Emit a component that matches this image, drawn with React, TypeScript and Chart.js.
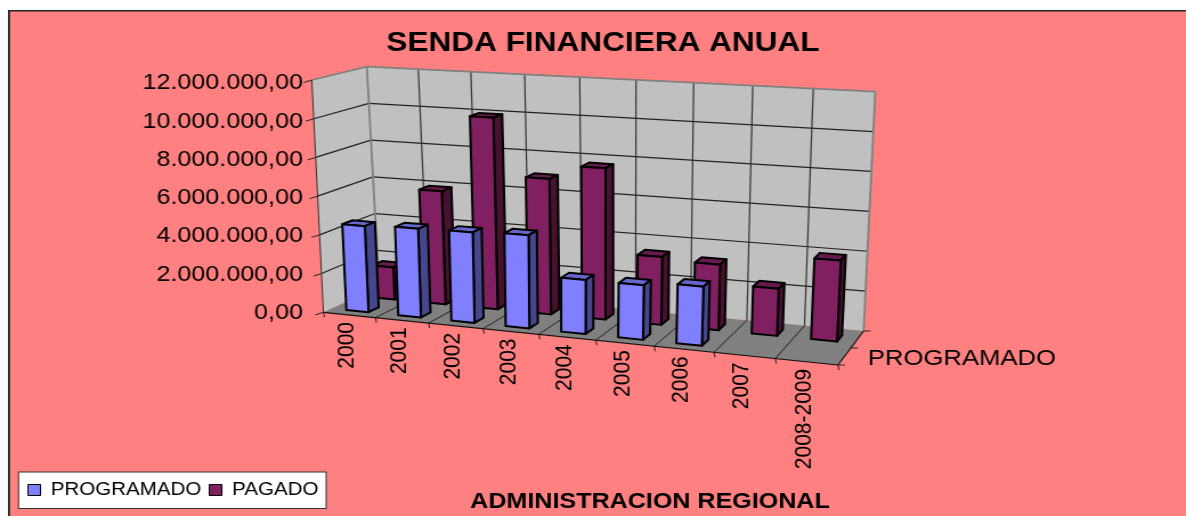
import React, { useEffect, useRef } from "react";
import { Chart, registerables } from "chart.js";

Chart.register(...registerables);

const categories = ["2000", "2001", "2002", "2003", "2004", "2005", "2006", "2007", "2008-2009"];
const programado = [4450000, 4550000, 4600000, 4700000, 2700000, 2700000, 2900000, 0, 0];
const pagado = [1700000, 5950000, 10000000, 7000000, 7750000, 3450000, 3300000, 2350000, 4000000];
const depthLabel = "PROGRAMADO";

const W = 1186;
const H = 516;
const K = 1.14; // horizontal stretch of the picture
const CW = Math.round(W / K);
const FONT = "'Liberation Sans', Arial, sans-serif";
const AREA_SHIFT = 3.5; // tick labels sit this far below the chart's box

type Pt = [number, number];
// 3D box corners in picture pixels: [u][v][d]  u left/right, v top/bottom, d front/back
const CORNERS: Pt[][][] = [
  [
    [[311.7, 80], [366.7, 66.7]],
    [[323.3, 312.3], [379, 287]],
  ],
  [
    [[851, 113], [875, 91.7]],
    [[837.7, 365], [863.3, 331]],
  ],
];
const R_WEIGHT = 0.9;
const S_WEIGHT = 1;

function project(u: number, v: number, d: number): Pt {
  let x = 0, y = 0, w = 0;
  for (let i = 0; i < 2; i++)
    for (let j = 0; j < 2; j++)
      for (let k = 0; k < 2; k++) {
        const b =
          (i ? u * R_WEIGHT : 1 - u) * (j ? v : 1 - v) * (k ? d * S_WEIGHT : 1 - d);
        const c = CORNERS[i][j][k];
        x += c[0] * b;
        y += c[1] * b;
        w += b;
      }
  return [x / w / K, y / w];
}

function poly(ctx: CanvasRenderingContext2D, pts: Pt[], fill: string | null, stroke: string | null, lw = 1) {
  ctx.beginPath();
  pts.forEach((p, i) => (i ? ctx.lineTo(p[0], p[1]) : ctx.moveTo(p[0], p[1])));
  ctx.closePath();
  if (fill) {
    ctx.fillStyle = fill;
    ctx.fill();
  }
  if (stroke) {
    ctx.strokeStyle = stroke;
    ctx.lineWidth = lw;
    ctx.lineJoin = "round";
    ctx.stroke();
  }
}

function line(ctx: CanvasRenderingContext2D, a: Pt, b: Pt, color: string, lw = 1) {
  ctx.beginPath();
  ctx.moveTo(a[0], a[1]);
  ctx.lineTo(b[0], b[1]);
  ctx.strokeStyle = color;
  ctx.lineWidth = lw;
  ctx.stroke();
}

const ROW_DEPTH: [number, number][] = [
  [0.15, 0.34],
  [0.64, 0.83],
];
const FACE_COLORS = [
  { front: "#8080FF", side: "#46468C", top: "#6666CC" },
  { front: "#802060", side: "#46122F", top: "#661A4D" },
];

const framePlugin = {
  id: "frame",
  beforeDraw(chart: any) {
    const { ctx, legend } = chart;
    ctx.save();
    ctx.fillStyle = "#FFFFFF";
    ctx.fillRect(0, 0, CW, H);
    ctx.fillStyle = "#FF8080";
    ctx.fillRect(9 / K, 11, CW, H);
    ctx.fillStyle = "#222222";
    ctx.fillRect(8 / K, 10, CW, 1.5);
    ctx.fillRect(8 / K, 10, 2 / K, H);
    if (legend) {
      const c = legend.top + legend.height / 2;
      ctx.fillStyle = "#FFFFFF";
      ctx.fillRect(18.5 / K, c - 19.5, 307.5 / K, 36.5);
      ctx.strokeStyle = "#333333";
      ctx.lineWidth = 1;
      ctx.strokeRect(18.5 / K, c - 19.5, 307.5 / K, 36.5);
    }
    ctx.restore();
  },
};

const scenePlugin = {
  id: "scene",
  beforeDatasetsDraw(chart: any) {
    const { ctx, chartArea: a, scales } = chart;
    const xs = scales.x;
    const ys = scales.y;
    const U = (px: number) => (px - a.left) / (a.right - a.left);
    const V = (py: number) => (py - a.top) / (a.bottom - a.top);
    ctx.save();

    // walls and floor
    const wall = "#C0C0C0";
    poly(ctx, [project(0, 0, 0), project(0, 0, 1), project(0, 1, 1), project(0, 1, 0)], wall, null);
    poly(ctx, [project(0, 0, 1), project(1, 0, 1), project(1, 1, 1), project(0, 1, 1)], wall, null);
    poly(ctx, [project(0, 1, 0), project(0, 1, 1), project(1, 1, 1), project(1, 1, 0)], "#808080", null);

    // value grid
    const yTicks = ys.ticks.map((t: any) => V(ys.getPixelForValue(t.value)));
    yTicks.forEach((v: number) => {
      if (v > 0.001 && v < 0.999) {
        line(ctx, project(0, v, 1), project(1, v, 1), "#222222", 1.2);
        line(ctx, project(0, v, 0), project(0, v, 1), "#222222", 1.2);
      }
      const p = project(0, v, 0);
      line(ctx, p, [p[0] - 8 / K, p[1] + 2.5], "#222222", 1);
    });
    // category grid
    for (let i = 0; i <= categories.length; i++) {
      const u = U(xs.getPixelForValue(i - 0.5));
      if (i > 0 && i < categories.length) {
        line(ctx, project(u, 0, 1), project(u, 1, 1), "#333333", 1.2);
        line(ctx, project(u, 1, 1), project(u, 1, 0), "#222222", 1);
      }
      const p = project(u, 1, 0);
      line(ctx, p, [p[0] + 1 / K, p[1] + 5], "#222222", 1);
    }
    // wall edges
    line(ctx, project(0, 0, 0), project(0, 0, 1), "#808080", 1.8);
    line(ctx, project(0, 0, 1), project(1, 0, 1), "#808080", 1.8);
    line(ctx, project(1, 0, 1), project(1, 1, 1), "#808080", 1.8);
    line(ctx, project(0, 0, 1), project(0, 1, 1), "#808080", 1.8);
    // axes
    line(ctx, project(0, 0, 0), project(0, 1, 0), "#333333", 1);
    line(ctx, project(0, 1, 0), project(1, 1, 0), "#111111", 1.2);
    line(ctx, project(1, 1, 0), project(1, 1, 1), "#111111", 1.2);
    [0, 0.5, 1].forEach((d) => {
      const p = project(1, 1, d);
      line(ctx, p, [p[0] + 7 / K, p[1]], "#222222", 1);
    });

    // bars: back row first, through the elements built by the chart's scales
    [1, 0].forEach((ds) => {
      const [d0, d1] = ROW_DEPTH[ds];
      const c = FACE_COLORS[ds];
      chart.getDatasetMeta(ds).data.forEach((el: any) => {
        const p = el.getProps(["x", "y", "base", "width"], true);
        if (Math.abs(p.base - p.y) < 0.5) return;
        const u0 = U(p.x - p.width / 2);
        const u1 = U(p.x + p.width / 2);
        const vt = V(p.y);
        const vb = V(p.base);
        const face = [project(u0, vt, d0), project(u1, vt, d0), project(u1, vb, d0), project(u0, vb, d0)];
        const side = [project(u1, vt, d0), project(u1, vt, d1), project(u1, vb, d1), project(u1, vb, d0)];
        const top = [project(u0, vt, d0), project(u0, vt, d1), project(u1, vt, d1), project(u1, vt, d0)];
        poly(ctx, top, c.top, "#000000", 2);
        poly(ctx, side, c.side, "#000000", 2);
        poly(ctx, face, c.front, "#000000", 2);
      });
    });

    // category labels, sloping with the floor
    ctx.fillStyle = "#000000";
    ctx.font = `21px ${FONT}`;
    categories.forEach((_, i) => {
      const p = project(U(xs.getPixelForValue(i)), 1, 0);
      ctx.save();
      ctx.translate(p[0] - 2.5 / K, p[1] + 7);
      ctx.rotate(-Math.PI / 2);
      ctx.textAlign = "right";
      ctx.textBaseline = "middle";
      ctx.fillText(xs.getLabelForValue(i), 0, 0);
      ctx.restore();
    });
    // depth axis label
    ctx.font = `22.5px ${FONT}`;
    ctx.textAlign = "left";
    ctx.textBaseline = "middle";
    ctx.fillText(depthLabel, 867.5 / K, 358.5);
    ctx.restore();
    return false;
  },
};

export default function App() {
  const ref = useRef<HTMLCanvasElement>(null);
  useEffect(() => {
    const canvas = ref.current!;
    const chart = new Chart(canvas, {
      type: "bar",
      data: {
        labels: categories,
        datasets: [
          { label: "PROGRAMADO", data: programado, backgroundColor: "#8080FF", borderColor: "#000000", borderWidth: 1 },
          { label: "PAGADO", data: pagado, backgroundColor: "#802060", borderColor: "#000000", borderWidth: 1 },
        ],
      },
      plugins: [framePlugin, scenePlugin],
      options: {
        animation: false,
        responsive: false,
        devicePixelRatio: 1,
        layout: { padding: { left: 20 / K, right: 0, top: 0, bottom: 7 } },
        datasets: { bar: { grouped: false, categoryPercentage: 1, barPercentage: 0.43 } },
        scales: {
          x: {
            type: "category",
            position: "bottom",
            offset: true,
            grid: { display: false },
            border: { display: false },
            ticks: { display: false },
            title: {
              display: true,
              text: "ADMINISTRACION REGIONAL",
              color: "#000000",
              font: { family: FONT, size: 22, weight: "bold" },
              padding: { top: 0, bottom: -41 },
            },
            afterFit: (s: any) => {
              s.height = 477 - 312.3 - AREA_SHIFT;
            },
          },
          y: {
            type: "linear",
            position: "left",
            min: 0,
            max: 12000000,
            grid: { display: false, drawTicks: false },
            border: { display: false },
            ticks: {
              stepSize: 2000000,
              padding: 8,
              color: "#000000",
              font: { family: FONT, size: 22 },
              callback: (v: any) =>
                Number(v).toLocaleString("de-DE", { minimumFractionDigits: 2, maximumFractionDigits: 2 }),
            },
            afterFit: (s: any) => {
              s.width = 292 / K;
            },
          },
          spare: {
            type: "linear",
            position: "right",
            grid: { display: false, drawTicks: false },
            border: { display: false },
            ticks: { display: false },
            afterFit: (s: any) => {
              s.width = 198 / K;
            },
          },
        },
        plugins: {
          title: {
            display: true,
            text: "SENDA FINANCIERA ANUAL",
            color: "#000000",
            font: { family: FONT, size: 27.7, weight: "bold" },
            padding: { top: 27, bottom: 23 },
          },
          legend: {
            display: true,
            position: "bottom",
            align: "start",
            labels: {
              color: "#000000",
              font: { family: FONT, size: 18 },
              boxWidth: 11,
              boxHeight: 11,
              padding: 7,
              generateLabels: (c: any) =>
                c.data.datasets.map((ds: any, i: number) => ({
                  text: ds.label,
                  fillStyle: ds.backgroundColor,
                  strokeStyle: "#000000",
                  lineWidth: 1,
                  datasetIndex: i,
                  fontColor: "#000000",
                })),
            },
          },
          tooltip: { enabled: false },
        },
      } as any,
    });
    return () => chart.destroy();
  }, []);
  return (
    <canvas
      ref={ref}
      width={CW}
      height={H}
      style={{ position: "absolute", left: 0, top: 0, width: W, height: H }}
    />
  );
}
